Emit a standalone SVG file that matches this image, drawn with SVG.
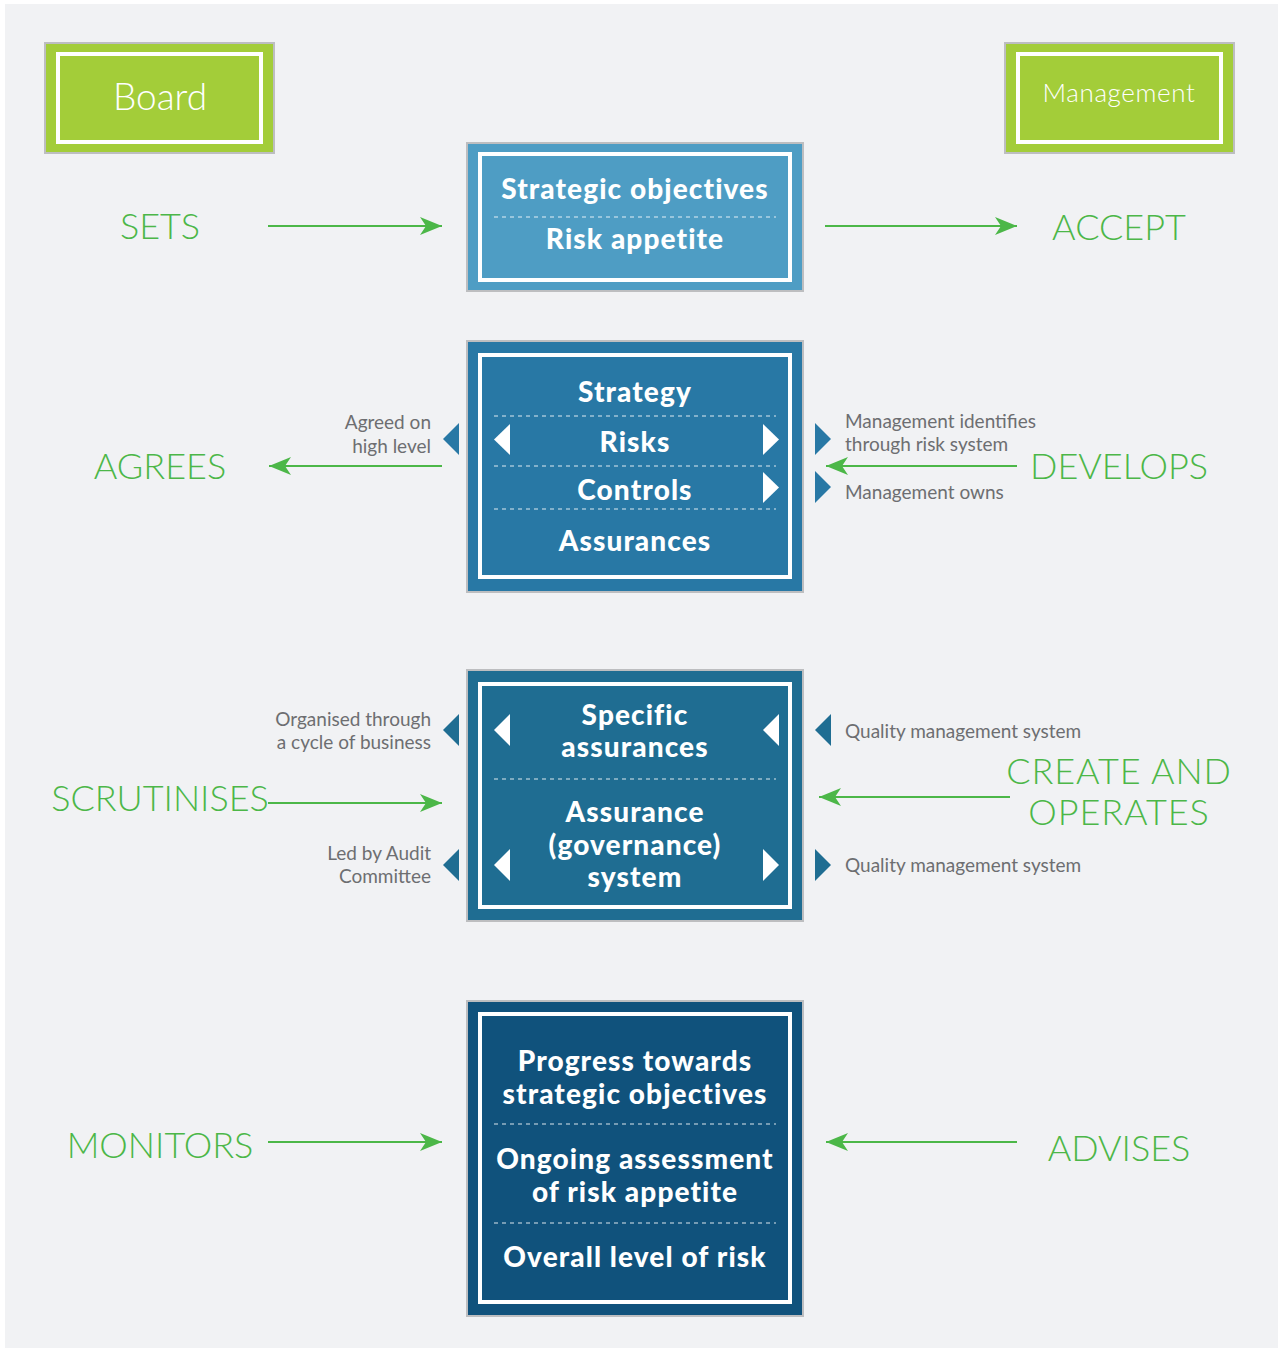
<svg xmlns="http://www.w3.org/2000/svg" width="1278" height="1348" viewBox="0 0 1278 1348">
  <style>
    .panel { fill: #f1f2f4; }
    .role-box { fill: #a3cd39; stroke: #bdbec0; stroke-width: 2; }
    .frame { fill: none; stroke: #ffffff; stroke-width: 4; }
    .node-box { stroke: #bdbec0; stroke-width: 2; }
    .role-text { font-family: "Lato", "Liberation Sans", sans-serif; font-weight: 300; fill: #ffffff; text-anchor: middle; }
    .node-text { font-family: "Lato", "Liberation Sans", sans-serif; font-weight: 900; fill: #ffffff; text-anchor: middle; font-size: 28px; letter-spacing: 1.1px; }
    .verb { font-family: "Lato", "Liberation Sans", sans-serif; font-weight: 300; fill: #4cb748; font-size: 36px; text-anchor: middle; }
    .note { font-family: "Lato", "Liberation Sans", sans-serif; font-weight: 400; fill: #6d6e71; font-size: 19px; }
    .note-r { text-anchor: end; }
    .divider { stroke: #ffffff; stroke-width: 1.2; stroke-dasharray: 4 4; opacity: 0.85; }
    .conn { stroke: #4cb748; stroke-width: 2; fill: none; marker-end: url(#head); }
    .tri-w { fill: #ffffff; }
    .tri-b2 { fill: #2878a5; }
    .tri-b3 { fill: #1f6d92; }
  </style>
  <defs>
    <marker id="head" markerUnits="userSpaceOnUse" markerWidth="24" markerHeight="20" refX="22" refY="9" orient="auto">
      <path d="M0,0 L22,9 L0,18 L6,9 Z" fill="#4cb748"/>
    </marker>
  </defs>

  <!-- page -->
  <rect x="0" y="0" width="1278" height="1348" fill="#ffffff"/>
  <rect class="panel" x="5" y="4" width="1273" height="1344"/>

  <!-- roles -->
  <g id="board">
    <rect class="role-box" x="45" y="43" width="229" height="110"/>
    <rect class="frame" x="58" y="54" width="203" height="88"/>
    <text class="role-text" x="160" y="110" font-size="37">Board</text>
  </g>
  <g id="management">
    <rect class="role-box" x="1005" y="43" width="229" height="110"/>
    <rect class="frame" x="1018" y="54" width="203" height="88"/>
    <text class="role-text" x="1119" y="102" font-size="26" letter-spacing="0.6">Management</text>
  </g>

  <!-- box 1: objectives and appetite -->
  <g id="objectives">
    <rect class="node-box" x="467" y="143" width="336" height="148" fill="#4e9dc4"/>
    <rect class="frame" x="480" y="154" width="310" height="126"/>
    <text class="node-text" x="635" y="199">Strategic objectives</text>
    <line class="divider" x1="494" y1="217" x2="776" y2="217"/>
    <text class="node-text" x="635" y="249">Risk appetite</text>
  </g>

  <!-- box 2: strategy, risks, controls, assurances -->
  <g id="strategy">
    <rect class="node-box" x="467" y="341" width="336" height="251" fill="#2878a5"/>
    <rect class="frame" x="480" y="355" width="310" height="222"/>
    <text class="node-text" x="635" y="402">Strategy</text>
    <line class="divider" x1="494" y1="416" x2="776" y2="416"/>
    <text class="node-text" x="635" y="452">Risks</text>
    <line class="divider" x1="494" y1="466" x2="776" y2="466"/>
    <text class="node-text" x="635" y="500">Controls</text>
    <line class="divider" x1="494" y1="509" x2="776" y2="509"/>
    <text class="node-text" x="635" y="551">Assurances</text>
    <polygon class="tri-w" points="510,424 510,455 494,439.5"/>
    <polygon class="tri-w" points="763,424 763,455 779,439.5"/>
    <polygon class="tri-w" points="763,472 763,503 779,487.5"/>
    <polygon class="tri-b2" points="459,423 459,455 443,439"/>
    <polygon class="tri-b2" points="815,423 815,455 831,439"/>
    <polygon class="tri-b2" points="815,471 815,503 831,487"/>
  </g>

  <!-- box 3: assurances -->
  <g id="assurance">
    <rect class="node-box" x="467" y="670" width="336" height="251" fill="#1f6d92"/>
    <rect class="frame" x="480" y="684" width="310" height="223"/>
    <text class="node-text" x="635" y="725">Specific</text>
    <text class="node-text" x="635" y="757">assurances</text>
    <line class="divider" x1="494" y1="779" x2="776" y2="779"/>
    <text class="node-text" x="635" y="822">Assurance</text>
    <text class="node-text" x="635" y="855">(governance)</text>
    <text class="node-text" x="635" y="887">system</text>
    <polygon class="tri-w" points="510,714 510,746 494,730"/>
    <polygon class="tri-w" points="779,714 779,746 763,730"/>
    <polygon class="tri-w" points="510,849 510,881 494,865"/>
    <polygon class="tri-w" points="763,849 763,881 779,865"/>
    <polygon class="tri-b3" points="459,714 459,746 443,730"/>
    <polygon class="tri-b3" points="459,849 459,881 443,865"/>
    <polygon class="tri-b3" points="831,714 831,746 815,730"/>
    <polygon class="tri-b3" points="815,849 815,881 831,865"/>
  </g>

  <!-- box 4: progress and risk level -->
  <g id="progress">
    <rect class="node-box" x="467" y="1001" width="336" height="315" fill="#10527c"/>
    <rect class="frame" x="480" y="1014" width="310" height="288"/>
    <text class="node-text" x="635" y="1071">Progress towards</text>
    <text class="node-text" x="635" y="1104">strategic objectives</text>
    <line class="divider" x1="494" y1="1124" x2="776" y2="1124"/>
    <text class="node-text" x="635" y="1169">Ongoing assessment</text>
    <text class="node-text" x="635" y="1202">of risk appetite</text>
    <line class="divider" x1="494" y1="1223" x2="776" y2="1223"/>
    <text class="node-text" x="635" y="1267">Overall level of risk</text>
  </g>

  <!-- verbs -->
  <g id="verbs">
    <text class="verb" x="160" y="239">SETS</text>
    <text class="verb" x="1119" y="240">ACCEPT</text>
    <text class="verb" x="160" y="479">AGREES</text>
    <text class="verb" x="1119" y="479">DEVELOPS</text>
    <text class="verb" x="160" y="811">SCRUTINISES</text>
    <text class="verb" x="1119" y="784" font-size="34" letter-spacing="0.9">CREATE AND</text>
    <text class="verb" x="1119" y="825" font-size="34" letter-spacing="0.9">OPERATES</text>
    <text class="verb" x="160" y="1158">MONITORS</text>
    <text class="verb" x="1119" y="1161">ADVISES</text>
  </g>

  <!-- side notes -->
  <g id="notes">
    <text class="note note-r" x="431" y="429">Agreed on</text>
    <text class="note note-r" x="431" y="453">high level</text>
    <text class="note" x="845" y="428">Management identifies</text>
    <text class="note" x="845" y="451">through risk system</text>
    <text class="note" x="845" y="499">Management owns</text>
    <text class="note note-r" x="431" y="726">Organised through</text>
    <text class="note note-r" x="431" y="749">a cycle of business</text>
    <text class="note note-r" x="431" y="860">Led by Audit</text>
    <text class="note note-r" x="431" y="883">Committee</text>
    <text class="note" x="845" y="738">Quality management system</text>
    <text class="note" x="845" y="872">Quality management system</text>
  </g>

  <!-- connectors -->
  <g id="connectors">
    <line class="conn" x1="268" y1="226" x2="442" y2="226"/>
    <line class="conn" x1="825" y1="226" x2="1017" y2="226"/>
    <line class="conn" x1="442" y1="466" x2="269" y2="466"/>
    <line class="conn" x1="1017" y1="466" x2="826" y2="466"/>
    <line class="conn" x1="268" y1="803" x2="442" y2="803"/>
    <line class="conn" x1="1010" y1="797" x2="819" y2="797"/>
    <line class="conn" x1="268" y1="1142" x2="442" y2="1142"/>
    <line class="conn" x1="1017" y1="1142" x2="826" y2="1142"/>
  </g>
</svg>
